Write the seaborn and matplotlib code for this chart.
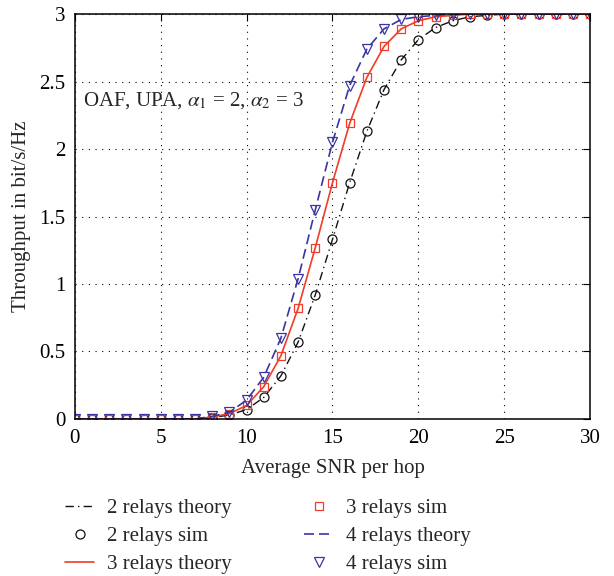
import numpy as np
import pandas as pd
import seaborn as sns
import matplotlib
matplotlib.use("Agg")
import matplotlib.pyplot as plt

snr = list(range(0, 31))
relays2 = [0, 0, 0, 0, 0, 0, 0, 0, 0.01, 0.03, 0.07, 0.16, 0.32, 0.57, 0.92, 1.33, 1.75, 2.13,
           2.44, 2.66, 2.81, 2.90, 2.95, 2.98, 2.99, 3.0, 3.0, 3.0, 3.0, 3.0, 3.0]
relays3 = [0, 0, 0, 0, 0, 0, 0, 0, 0.015, 0.04, 0.10, 0.24, 0.47, 0.82, 1.27, 1.75, 2.19, 2.53,
           2.76, 2.89, 2.95, 2.98, 2.99, 3.0, 3.0, 3.0, 3.0, 3.0, 3.0, 3.0, 3.0]
relays4 = [0, 0, 0, 0, 0, 0, 0, 0, 0.02, 0.05, 0.14, 0.31, 0.60, 1.04, 1.55, 2.05, 2.47, 2.74,
           2.89, 2.96, 2.98, 2.99, 3.0, 3.0, 3.0, 3.0, 3.0, 3.0, 3.0, 3.0, 3.0]
xticks = [0, 5, 10, 15, 20, 25, 30]
yticks = [0, 0.5, 1, 1.5, 2, 2.5, 3]
ytick_labels = ["0", "0.5", "1", "1.5", "2", "2.5", "3"]

sns.set_style("white")
plt.rcParams['font.family'] = ['Liberation Serif', 'DejaVu Serif']
plt.rcParams['mathtext.fontset'] = 'stix'

BLACK = "#111111"
RED = "#f03c28"
BLUE = "#3b35a3"
FS = 15

fig = plt.figure(figsize=(6.14, 5.76), dpi=100)
ax = fig.add_axes([0.122, 0.2726, 0.839, 0.703])

df = pd.DataFrame({"snr": snr, "r2": relays2, "r3": relays3, "r4": relays4})

sns.lineplot(data=df, x="snr", y="r2", ax=ax, color=BLACK, linestyle=(0, (6, 3, 1, 3)), lw=1.0,
             label="2 relays theory")
sns.lineplot(data=df, x="snr", y="r2", ax=ax, color=BLACK, linestyle="none", marker="o",
             markersize=6.5, markerfacecolor="none", markeredgecolor=BLACK, markeredgewidth=0.9,
             label="2 relays sim")
sns.lineplot(data=df, x="snr", y="r3", ax=ax, color=RED, linestyle="-", lw=1.2,
             label="3 relays theory")
sns.lineplot(data=df, x="snr", y="r3", ax=ax, color=RED, linestyle="none", marker="s",
             markersize=6, markerfacecolor="none", markeredgecolor=RED, markeredgewidth=0.9,
             label="3 relays sim")
sns.lineplot(data=df, x="snr", y="r4", ax=ax, color=BLUE, linestyle=(0, (6, 3)), lw=1.2,
             label="4 relays theory")
sns.lineplot(data=df, x="snr", y="r4", ax=ax, color=BLUE, linestyle="none", marker="v",
             markersize=7.5, markerfacecolor="none", markeredgecolor=BLUE, markeredgewidth=0.9,
             label="4 relays sim")

ax.set_xlim(0, 30)
ax.set_ylim(0, 3)
ax.set_xticks(xticks)
ax.set_yticks(yticks)
ax.set_yticklabels(ytick_labels)
ax.grid(True, linestyle=(0, (1, 5)), color="black", lw=0.8)
ax.tick_params(direction="in", length=5, top=True, right=True, labelsize=FS, colors="black", pad=7)
for s in ax.spines.values():
    s.set_color("black")
    s.set_linewidth(1.1)
ax.set_xlabel("Average SNR per hop", fontsize=FS, labelpad=8)
ax.set_ylabel("Throughput in bit/s/Hz", fontsize=FS, labelpad=6)

ax.text(0.5, 2.36, r"OAF, UPA, $\alpha_1$ = 2, $\alpha_2$ = 3", fontsize=FS, va="center", ha="left")

h, l = ax.get_legend_handles_labels()
ax.get_legend().remove()
fig.legend(h, l, loc="upper left", bbox_to_anchor=(0.106, 0.134), ncol=2, frameon=False,
           fontsize=FS, handlelength=1.4, columnspacing=3.5, labelspacing=0.4, handletextpad=0.6,
           borderpad=0, borderaxespad=0)

fig.savefig("out.png", dpi=100)
